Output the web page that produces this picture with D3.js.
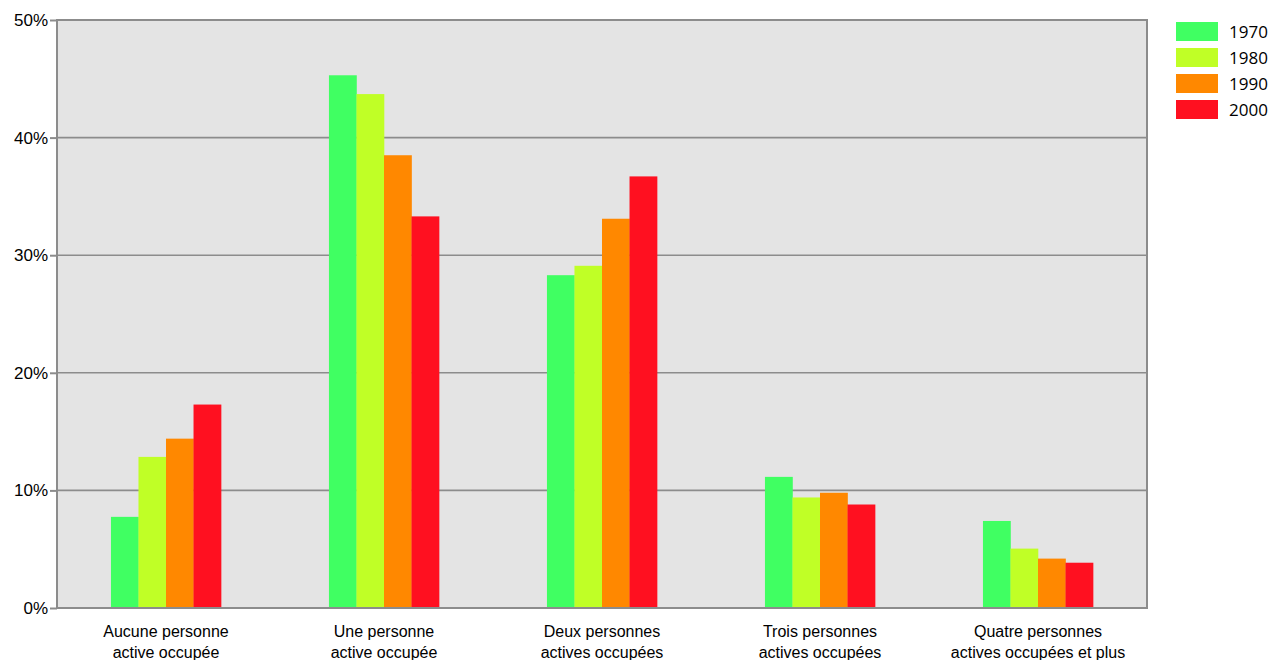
<!DOCTYPE html>
<html><head><meta charset="utf-8">
<script src="https://cdn.jsdelivr.net/npm/d3@7"></script>
<style>body{margin:0;background:#fff}svg{display:block}</style>
</head><body>
<svg id="c" width="1271" height="660"></svg>
<script>
const categories = [
  ["Aucune personne","active occupée"],
  ["Une personne","active occupée"],
  ["Deux personnes","actives occupées"],
  ["Trois personnes","actives occupées"],
  ["Quatre personnes","actives occupées et plus"]
];
const seriesNames = ["1970","1980","1990","2000"];
const s1970 = [7.75, 45.3, 28.3, 11.15, 7.4];
const s1980 = [12.85, 43.7, 29.1, 9.4, 5.05];
const s1990 = [14.4, 38.5, 33.1, 9.8, 4.2];
const s2000 = [17.3, 33.3, 36.7, 8.8, 3.85];
const seriesValues = [s1970, s1980, s1990, s2000];
const colors = ["#40ff62","#c0ff26","#ff8800","#ff1020"];
const yTicks = [0,10,20,30,40,50];

const svg = d3.select("#c");
const m = {l:57, r:1147, t:20, b:608};
const x0 = d3.scaleBand().domain(d3.range(categories.length)).range([m.l, m.r]).paddingInner(0.495).paddingOuter(0.2475);
const x1 = d3.scaleBand().domain(d3.range(seriesNames.length)).range([0, x0.bandwidth()]);
const y = d3.scaleLinear().domain([0,50]).range([m.b, m.t]);

svg.append("rect").attr("x",m.l).attr("y",m.t).attr("width",m.r-m.l).attr("height",m.b-m.t).attr("fill","#e4e4e4");

// gridlines
svg.append("g").selectAll("line").data(yTicks.filter(d=>d>0)).join("line")
  .attr("x1",m.l).attr("x2",m.r).attr("y1",d=>y(d)).attr("y2",d=>y(d))
  .attr("stroke","#8c8c8c").attr("stroke-width",1.6);

// bars
const g = svg.append("g");
categories.forEach((c,i)=>{
  seriesValues.forEach((s,j)=>{
    g.append("rect").attr("x", x0(i)+x1(j)).attr("width", x1.bandwidth()+0.3)
     .attr("y", y(s[i])).attr("height", y(0)-y(s[i])).attr("fill", colors[j]);
  });
});

// frame
svg.append("rect").attr("x",m.l).attr("y",m.t).attr("width",m.r-m.l).attr("height",m.b-m.t)
  .attr("fill","none").attr("stroke","#8c8c8c").attr("stroke-width",2);

// y axis
const yAxis = d3.axisLeft(y).tickValues(yTicks).tickFormat(d=>d+"%").tickSize(7).tickPadding(2);
const ya = svg.append("g").attr("transform",`translate(${m.l},0)`).call(yAxis);
ya.select(".domain").remove();
ya.selectAll(".tick line").attr("stroke","#8c8c8c").attr("stroke-width",2);
ya.selectAll("text").attr("font-family","Liberation Sans, Arial, sans-serif").attr("font-size",17).attr("fill","#000");

// x labels
const xl = svg.append("g");
categories.forEach((c,i)=>{
  const t = xl.append("text").attr("x", x0(i)+x0.bandwidth()/2).attr("y",637)
    .attr("text-anchor","middle").attr("font-family","Liberation Sans, Arial, sans-serif").attr("font-size",16).attr("fill","#000");
  c.forEach((line,k)=>t.append("tspan").attr("x", x0(i)+x0.bandwidth()/2).attr("dy", k===0?0:21).text(line));
});

// legend
const lg = svg.append("g").attr("transform","translate(1176,22)");
seriesNames.forEach((n,j)=>{
  lg.append("rect").attr("x",0).attr("y",j*26).attr("width",42).attr("height",19).attr("fill",colors[j]);
  lg.append("text").attr("x",53).attr("y",j*26+16).attr("font-family","Open Sans, sans-serif").attr("font-size",17).attr("fill","#000").text(n);
});
</script>
</body></html>
